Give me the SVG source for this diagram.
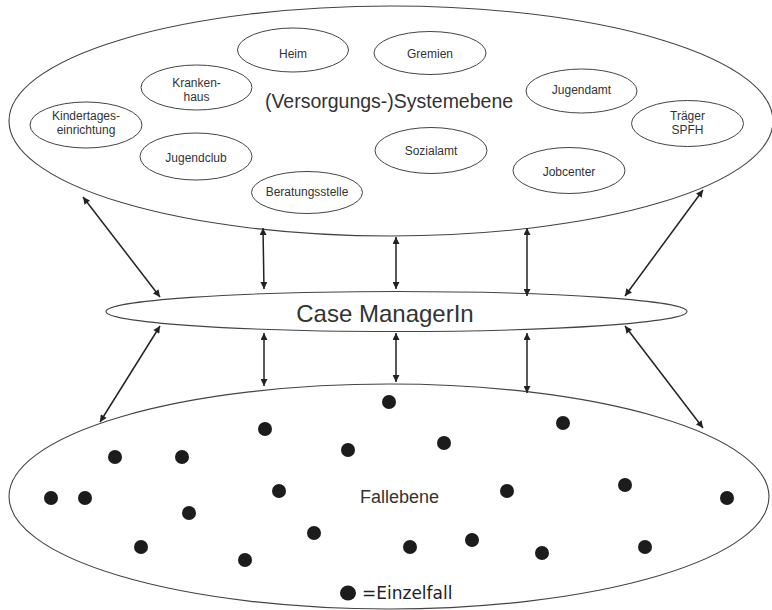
<svg xmlns="http://www.w3.org/2000/svg" width="772" height="610" viewBox="0 0 772 610">
<defs>
<marker id="ah" viewBox="0 0 10 10" refX="10" refY="5" markerWidth="9" markerHeight="7" markerUnits="userSpaceOnUse" orient="auto-start-reverse">
<path d="M0,0 L10,5 L0,10 z" fill="#222"/>
</marker>
<style>
.big{fill:#fff;stroke:#444;stroke-width:1.1}
.sm{fill:#fff;stroke:#444;stroke-width:1}
.t{font-family:"Liberation Sans",Arial,sans-serif;font-size:12px;fill:#333;text-anchor:middle}
.lbl{font-family:"Liberation Sans",Arial,sans-serif;fill:#333;text-anchor:middle}
.con line{stroke:#222;stroke-width:1.5;marker-start:url(#ah);marker-end:url(#ah)}
.dot{fill:#1c1c1c}
</style>
</defs>
<rect width="772" height="610" fill="#fff"/>

<g id="systemebene">
<ellipse class="big" cx="391" cy="121" rx="382" ry="115"/>
<text class="lbl" x="389" y="108" font-size="19.5">(Versorgungs-)Systemebene</text>
</g>
<g id="heim"><ellipse class="sm" cx="293" cy="50" rx="55.5" ry="22"/><text class="t" x="293" y="57.5">Heim</text></g>
<g id="gremien"><ellipse class="sm" cx="430" cy="53" rx="56" ry="21.5"/><text class="t" x="430" y="57.5">Gremien</text></g>
<g id="krankenhaus"><ellipse class="sm" cx="196.5" cy="87.5" rx="55.5" ry="22.5"/><text class="t" x="196.5" y="86.5">Kranken-</text><text class="t" x="196.5" y="100.5">haus</text></g>
<g id="kindertageseinrichtung"><ellipse class="sm" cx="86" cy="125" rx="56" ry="23"/><text class="t" x="86" y="120">Kindertages-</text><text class="t" x="86" y="134">einrichtung</text></g>
<g id="jugendclub"><ellipse class="sm" cx="196" cy="156.5" rx="56" ry="23.5"/><text class="t" x="196" y="162">Jugendclub</text></g>
<g id="beratungsstelle"><ellipse class="sm" cx="307" cy="192.5" rx="55.5" ry="21"/><text class="t" x="307" y="196">Beratungsstelle</text></g>
<g id="sozialamt"><ellipse class="sm" cx="431" cy="150.5" rx="56" ry="23"/><text class="t" x="431" y="155">Sozialamt</text></g>
<g id="jugendamt"><ellipse class="sm" cx="581.5" cy="91" rx="55.5" ry="22"/><text class="t" x="581.5" y="94">Jugendamt</text></g>
<g id="traeger"><ellipse class="sm" cx="687.5" cy="123.5" rx="56" ry="23"/><text class="t" x="687.5" y="120">Träger</text><text class="t" x="687.5" y="133.5">SPFH</text></g>
<g id="jobcenter"><ellipse class="sm" cx="569" cy="170.5" rx="56" ry="23"/><text class="t" x="569" y="176">Jobcenter</text></g>

<g id="casemanager">
<ellipse class="big" cx="396.5" cy="311.5" rx="290.5" ry="20"/>
<text class="lbl" x="385" y="322" font-size="24">Case ManagerIn</text>
</g>

<g id="fallebene">
<ellipse class="big" cx="389" cy="496.5" rx="380" ry="112.5"/>
<text class="lbl" x="399.5" y="503" font-size="18">Fallebene</text>
<g class="dot">
<circle cx="389" cy="402" r="7"/>
<circle cx="265" cy="429" r="7"/>
<circle cx="563" cy="423" r="7"/>
<circle cx="115" cy="457" r="7"/>
<circle cx="182" cy="457" r="7"/>
<circle cx="348" cy="450" r="7"/>
<circle cx="444" cy="443" r="7"/>
<circle cx="51" cy="498" r="7"/>
<circle cx="85" cy="498" r="7"/>
<circle cx="279" cy="491" r="7"/>
<circle cx="507" cy="491" r="7"/>
<circle cx="625" cy="485" r="7"/>
<circle cx="727" cy="498" r="7"/>
<circle cx="189" cy="513" r="7"/>
<circle cx="314" cy="533" r="7"/>
<circle cx="141" cy="547" r="7"/>
<circle cx="245" cy="560" r="7"/>
<circle cx="410" cy="547" r="7"/>
<circle cx="472" cy="540" r="7"/>
<circle cx="542" cy="553" r="7"/>
<circle cx="645" cy="547" r="7"/>
</g>
</g>

<g id="legend">
<ellipse class="dot" cx="348" cy="593" rx="8" ry="7.5"/>
<text x="362" y="599" font-family="DejaVu Sans, sans-serif" font-size="17" fill="#222">=Einzelfall</text>
</g>

<g id="connectors" class="con">
<line x1="83" y1="197" x2="160" y2="297"/>
<line x1="703" y1="190" x2="625" y2="296"/>
<line x1="160" y1="326" x2="100" y2="422"/>
<line x1="625" y1="326" x2="703" y2="428"/>
<line x1="263" y1="228" x2="264" y2="289"/>
<line x1="396" y1="237" x2="396" y2="289"/>
<line x1="527" y1="228" x2="527" y2="296"/>
<line x1="264" y1="333" x2="264" y2="386"/>
<line x1="396" y1="333" x2="396" y2="382"/>
<line x1="527" y1="333" x2="527" y2="393"/>
</g>
</svg>
